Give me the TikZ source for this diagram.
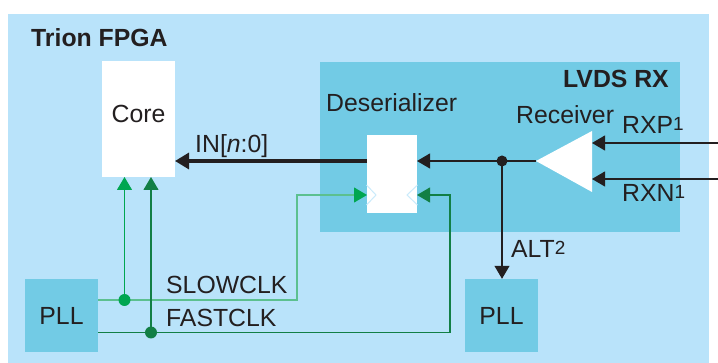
\documentclass[tikz,border=0pt]{standalone}
\usepackage{fontspec}
\setmainfont{Liberation Sans}
\usetikzlibrary{arrows.meta,calc}
\definecolor{fpgabg}{HTML}{B9E3FA}
\definecolor{blockbg}{HTML}{72CBE5}
\definecolor{inkc}{HTML}{231F20}
\definecolor{slowg}{HTML}{00A651}
\definecolor{slowl}{HTML}{5CC08F}
\definecolor{fastg}{HTML}{127F45}
\definecolor{chev}{HTML}{CBEBFB}
\newcommand{\supnum}[1]{\raisebox{3.5pt}{\fontsize{19}{20}\selectfont #1}}
\tikzset{
  x=1pt,y=-1pt,
  lbl/.style={font=\fontsize{24.8}{26}\selectfont,text=inkc,inner sep=0pt,anchor=base west},
  blbl/.style={lbl,font=\fontsize{24.8}{26}\selectfont\bfseries},
  block/.style={fill=blockbg,draw=none,minimum width=73pt,minimum height=73pt,inner sep=0pt,font=\fontsize{24.8}{26}\selectfont,text=inkc},
  whitebox/.style={fill=white,draw=none,inner sep=0pt,font=\fontsize{24.8}{26}\selectfont,text=inkc},
  sig/.style={draw=inkc,line width=1.1pt,-{Triangle[length=13pt,width=15pt]}},
  thicksig/.style={draw=inkc,line width=3.2pt,-{Triangle[length=14pt,width=16pt]}},
  slowsig/.style={draw=slowg,line width=1.1pt,-{Triangle[length=13pt,width=15pt]}},
  fastsig/.style={draw=fastg,line width=1.1pt,-{Triangle[length=13pt,width=15pt]}},
  dot/.style={circle,inner sep=0pt,minimum size=#1},
  chevron/.style={draw=chev,line width=1pt}
}
\begin{document}
\begin{tikzpicture}
\useasboundingbox (0,0) rectangle (718,363);
\fill[white] (0,0) rectangle (718,363);
\fill[fpgabg] (8,14) rectangle (709,363);
\fill[blockbg] (320,62) rectangle (680,232);
\node[blbl] (title) at (31,47) {Trion FPGA};
\node[blbl,anchor=base east] (lvds) at (669,88) {LVDS RX};
\node[whitebox,minimum width=73pt,minimum height=116pt] (core) at (138.5,119) {};
\node[lbl,anchor=base] (corelbl) at (138.5,123) {Core};
\node[whitebox,minimum width=50pt,minimum height=78pt] (des) at (392,174) {};
\node[lbl] (deslbl) at (326,112) {Deserializer};
\node[lbl] (reclbl) at (516,124) {Receiver};
\node[block] (pllL) at (61.5,315.5) {PLL};
\node[block] (pllR) at (501.5,315.5) {PLL};
\fill[white] (536,161) coordinate (recout) -- (592,131) -- (592,192) -- cycle;
\coordinate (recP) at (592,143);
\coordinate (recN) at (592,179);
\coordinate (inP) at (718,143);
\coordinate (inN) at (718,179);
\coordinate (desin) at (417,161);
\coordinate (desout) at (367,161);
\coordinate (coreout) at (175,161);
% chevrons
\draw[chevron] (366.5,185) -- (376,195) -- (366.5,205);
\draw[chevron] (417.5,185) -- (407,195) -- (417.5,205);
% green clocks
\coordinate (slowstart) at (98,300);
\coordinate (faststart) at (98,332.5);
\coordinate (slowj) at (124.5,300);
\coordinate (fastj) at (151,332.5);
\draw[draw=slowl,line width=1.6pt] (slowstart) -- (297,300) -- (297,195) -- (360,195);
\draw[slowsig] (354,195) -- (367,195);
\draw[slowsig] (slowj) -- (124.5,177);
\draw[draw=fastg,line width=1.1pt] (faststart) -- (450,332.5) -- (450,195) -- (425,195);
\draw[fastsig] (430,195) -- (417,195);
\draw[fastsig] (fastj) -- (151,177);
\node[dot=12pt,fill=slowg] (sdot) at (slowj) {};
\node[dot=12pt,fill=fastg] (fdot) at (fastj) {};
% black signals
\draw[thicksig] (desout) -- (coreout);
\draw[sig] (recout) -- (desin);
\draw[sig] (inP) -- (recP);
\draw[sig] (inN) -- (recN);
\coordinate (altj) at (502,161);
\draw[sig] (altj) -- (pllR.north -| altj);
\node[dot=11pt,fill=inkc] (adot) at (altj) {};
% labels
\node[lbl] (inlbl) at (195,153) {IN[\textit{n}:0]};
\node[lbl] (rxp) at (622,134) {RXP\supnum{1}};
\node[lbl] (rxn) at (622,202) {RXN\supnum{1}};
\node[lbl] (alt) at (511,258) {ALT\supnum{2}};
\node[lbl] (slow) at (166,294) {SLOWCLK};
\node[lbl] (fast) at (166,327) {FASTCLK};
\end{tikzpicture}
\end{document}
